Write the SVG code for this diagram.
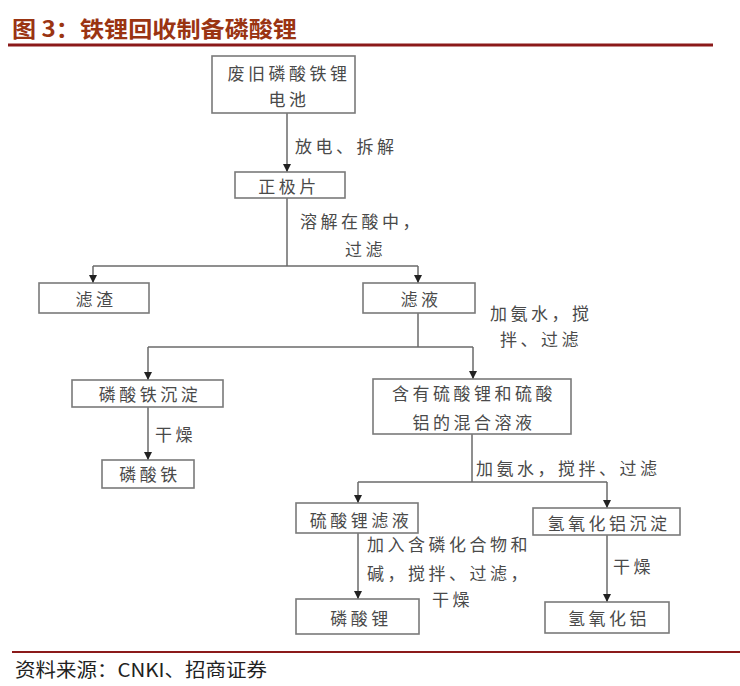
<svg xmlns="http://www.w3.org/2000/svg" width="740" height="686" viewBox="0 0 740 686">
<style>
.box{fill:#fff;stroke:#7a7a7a;stroke-width:1.6}
.t{font-family:"Noto Sans CJK SC","Noto Sans",sans-serif;font-size:17px;fill:#4a4a4a;letter-spacing:3.5px;dominant-baseline:central;text-anchor:middle}
.l{font-family:"Noto Sans CJK SC","Noto Sans",sans-serif;font-size:17px;fill:#4a4a4a;letter-spacing:3.5px;dominant-baseline:central}
.c{fill:none;stroke:#6a6a6a;stroke-width:1.5}
</style>
<defs>
<marker id="ah" markerWidth="8" markerHeight="8" viewBox="0 0 8 8" refX="8" refY="4" orient="auto" markerUnits="userSpaceOnUse">
<path d="M0,0 L8,4 L0,8 Z" fill="#222"/>
</marker>
</defs>
<rect width="740" height="686" fill="#fff"/>
<g id="title">
<text x="12" y="37" font-family="'Noto Sans CJK SC',sans-serif" font-size="22" font-weight="bold" fill="#9a3412" textLength="285" lengthAdjust="spacingAndGlyphs">图 3：铁锂回收制备磷酸锂</text>
<line x1="8" y1="45" x2="713" y2="45" stroke="#8b1a1a" stroke-width="3"/>
</g>
<g id="connectors">
<path class="c" d="M287,113 V172" marker-end="url(#ah)"/>
<path class="c" d="M287,198 V266"/>
<path class="c" d="M93,266 H418"/>
<path class="c" d="M93,266 V283" marker-end="url(#ah)"/>
<path class="c" d="M418,266 V283" marker-end="url(#ah)"/>
<path class="c" d="M418,313 V347"/>
<path class="c" d="M148,347 H473"/>
<path class="c" d="M148,347 V380" marker-end="url(#ah)"/>
<path class="c" d="M473,347 V379" marker-end="url(#ah)"/>
<path class="c" d="M148,407 V460" marker-end="url(#ah)"/>
<path class="c" d="M472,434 V482"/>
<path class="c" d="M358,482 H607"/>
<path class="c" d="M358,482 V503" marker-end="url(#ah)"/>
<path class="c" d="M607,482 V508" marker-end="url(#ah)"/>
<path class="c" d="M358,533 V599" marker-end="url(#ah)"/>
<path class="c" d="M607,535 V602" marker-end="url(#ah)"/>
</g>
<g id="labels">
<text class="l" x="295" y="145">放电、拆解</text>
<text class="l" x="300" y="220">溶解在酸中，</text>
<text class="l" x="345" y="248">过滤</text>
<text class="l" x="490" y="312">加氨水，搅</text>
<text class="l" x="500" y="338">拌、过滤</text>
<text class="l" x="155" y="433">干燥</text>
<text class="l" x="476" y="467">加氨水，搅拌、过滤</text>
<text class="l" x="367" y="543">加入含磷化合物和</text>
<text class="l" x="367" y="572">碱，搅拌、过滤，</text>
<text class="l" x="432" y="598">干燥</text>
<text class="l" x="613" y="565">干燥</text>
</g>
<g id="n1"><rect class="box" x="212" y="56" width="143" height="57"/><text class="t" x="289" y="72">废旧磷酸铁锂</text><text class="t" x="289" y="98">电池</text></g>
<g id="n2"><rect class="box" x="235" y="172" width="110" height="26"/><text class="t" x="289" y="185">正极片</text></g>
<g id="n3"><rect class="box" x="39" y="283" width="110" height="30"/><text class="t" x="96" y="298">滤渣</text></g>
<g id="n4"><rect class="box" x="363" y="283" width="112" height="30"/><text class="t" x="421" y="298">滤液</text></g>
<g id="n5"><rect class="box" x="72" y="380" width="151" height="27"/><text class="t" x="150" y="393">磷酸铁沉淀</text></g>
<g id="n6"><rect class="box" x="102" y="460" width="92" height="28"/><text class="t" x="150" y="473">磷酸铁</text></g>
<g id="n7"><rect class="box" x="373" y="379" width="198" height="55"/><text class="t" x="474" y="392">含有硫酸锂和硫酸</text><text class="t" x="474" y="421">铝的混合溶液</text></g>
<g id="n8"><rect class="box" x="296" y="503" width="122" height="30"/><text class="t" x="361" y="519">硫酸锂滤液</text></g>
<g id="n9"><rect class="box" x="533" y="508" width="147" height="27"/><text class="t" x="609" y="522">氢氧化铝沉淀</text></g>
<g id="n10"><rect class="box" x="296" y="599" width="123" height="35"/><text class="t" x="361" y="617">磷酸锂</text></g>
<g id="n11"><rect class="box" x="545" y="602" width="124" height="31"/><text class="t" x="609" y="617">氢氧化铝</text></g>
<g id="footer">
<line x1="12" y1="652" x2="740" y2="652" stroke="#8b1a1a" stroke-width="2"/>
<text x="15" y="677" font-family="'Noto Sans CJK SC','Liberation Sans',sans-serif" font-size="19" fill="#222" textLength="252" lengthAdjust="spacingAndGlyphs">资料来源：CNKI、招商证券</text>
</g>
</svg>
